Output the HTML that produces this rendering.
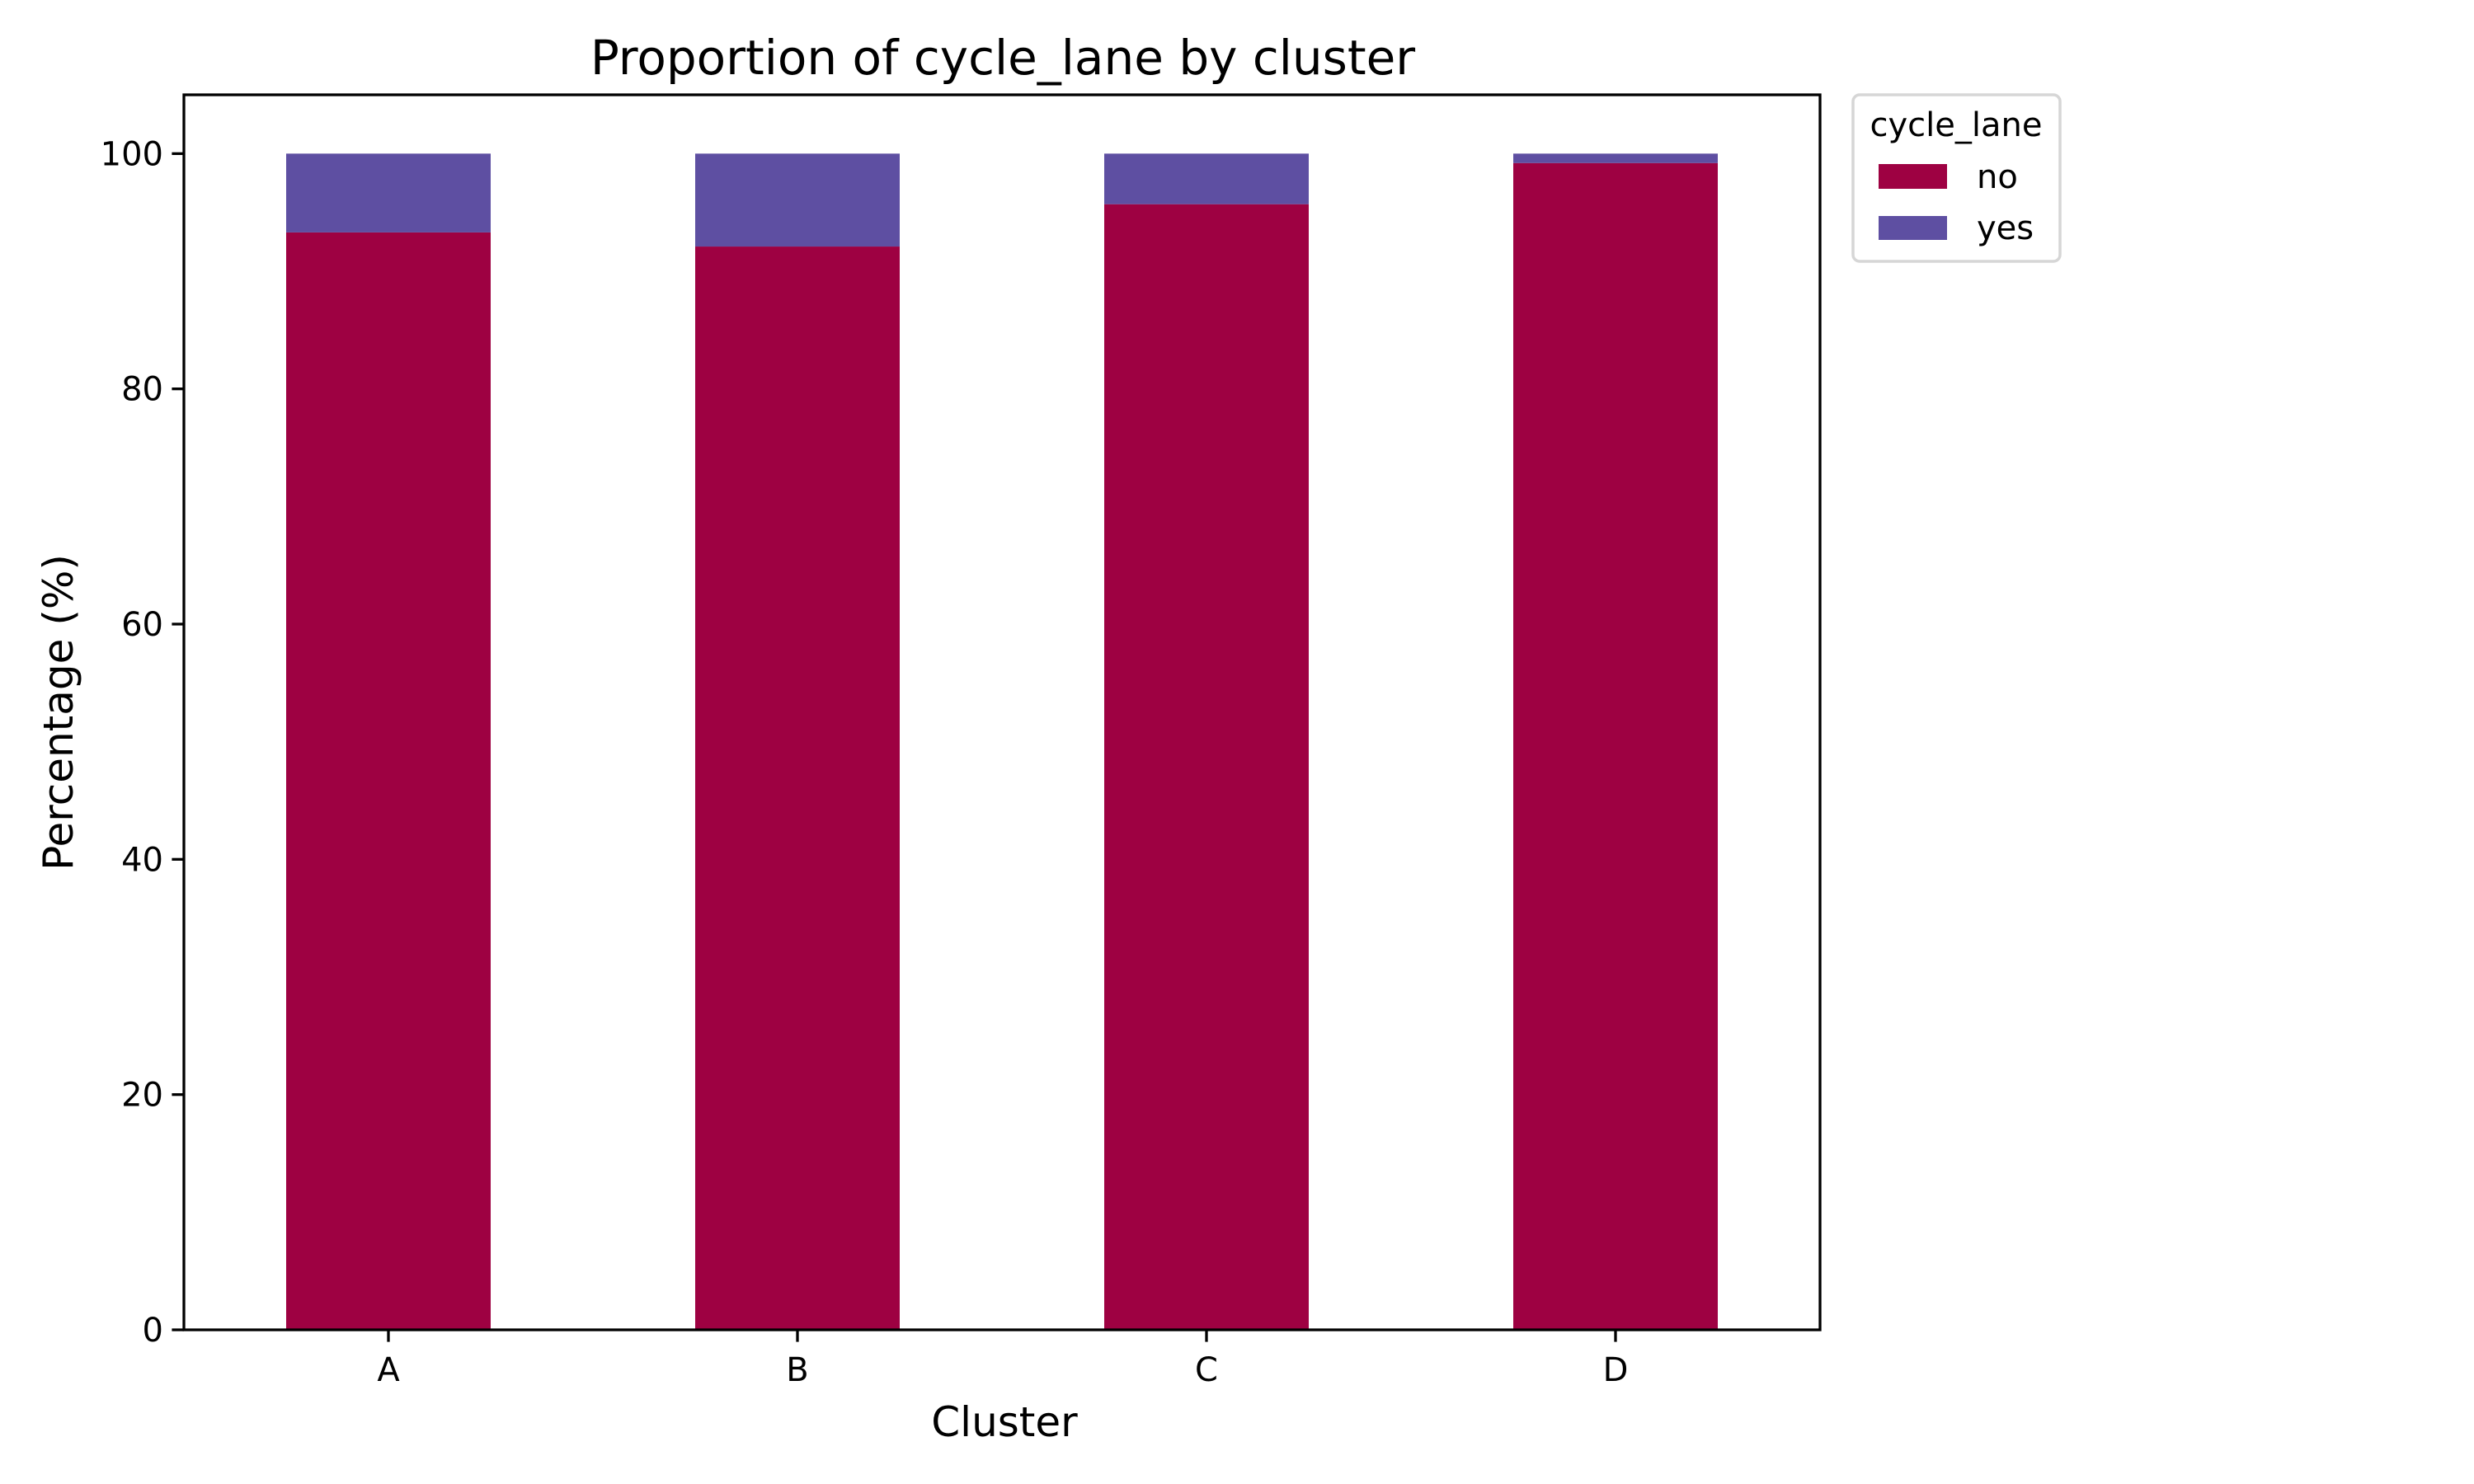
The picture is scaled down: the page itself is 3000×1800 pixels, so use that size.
<!DOCTYPE html>
<html><head><meta charset="utf-8"><style>
html,body{margin:0;padding:0;background:#fff;}
svg{display:block;font-family:"DejaVu Sans","Liberation Sans",sans-serif;}
</style></head><body>
<svg id="chart" width="3000" height="1800" viewBox="0 0 3000 1800">
<text x="1216" y="90" font-size="58" text-anchor="middle">Proportion of cycle_lane by cluster</text>
<g id="bars"></g>
<g id="axes"></g>
<text x="1218" y="1742" font-size="50" text-anchor="middle">Cluster</text>
<text transform="translate(88,864) rotate(-90)" font-size="50" text-anchor="middle">Percentage (%)</text>
<g>
<rect x="2247" y="115" width="251" height="202" rx="8" fill="#fff" stroke="#d6d6d6" stroke-width="3.5"/>
<text x="2372" y="165" font-size="40" text-anchor="middle">cycle_lane</text>
<rect x="2278" y="199" width="83" height="30" fill="#9e0142"/>
<text x="2397" y="228" font-size="40">no</text>
<rect x="2278" y="262" width="83" height="29" fill="#5e4fa2"/>
<text x="2397" y="290" font-size="40">yes</text>
</g>
</svg>
<script>
const categories = ["A","B","C","D"];
const noValues = [93.3, 92.1, 95.7, 99.2];
const yesValues = [6.7, 7.9, 4.3, 0.8];
const yTicks = [0, 20, 40, 60, 80, 100];

const L=223,R=2207,T=115,B=1613,YMAX=105;
const NS="http://www.w3.org/2000/svg";
function sx(i){return L+(i+0.5)*(R-L)/categories.length;}
function sy(v){return B-(v/YMAX)*(B-T);}
const bw=(R-L)/categories.length*0.5;
function mk(tag,attrs,parent){const e=document.createElementNS(NS,tag);for(const k in attrs)e.setAttribute(k,attrs[k]);parent.appendChild(e);return e;}
const bars=document.getElementById('bars');
const axes=document.getElementById('axes');
categories.forEach((c,i)=>{
  const x=sx(i)-bw/2;
  const r1=mk('rect',{x:x,y:sy(noValues[i]),width:bw,height:sy(0)-sy(noValues[i]),fill:'#9e0142'},bars);
  
  
  const top=noValues[i]+yesValues[i];
  const r2=mk('rect',{x:x,y:sy(top),width:bw,height:sy(noValues[i])-sy(top),fill:'#5e4fa2'},bars);
  
  
  const t=mk('line',{x1:sx(i),x2:sx(i),y1:B,y2:B+14.6,stroke:'#000','stroke-width':3.3},axes);
  
  
  const lb=mk('text',{x:sx(i),y:B+62,'font-size':40,'text-anchor':'middle'},axes);
  lb.textContent=c;
  
  
});
yTicks.forEach(v=>{
  const t=mk('line',{x1:L-14.6,x2:L,y1:sy(v),y2:sy(v),stroke:'#000','stroke-width':3.3},axes);
  
  
  const lb=mk('text',{x:L-25,y:sy(v)+14,'font-size':40,'text-anchor':'end'},axes);
  lb.textContent=v;
  
  
});
const fr=mk('rect',{x:L,y:T,width:R-L,height:B-T,fill:'none',stroke:'#000','stroke-width':3.3},axes);


</script>
</body></html>
